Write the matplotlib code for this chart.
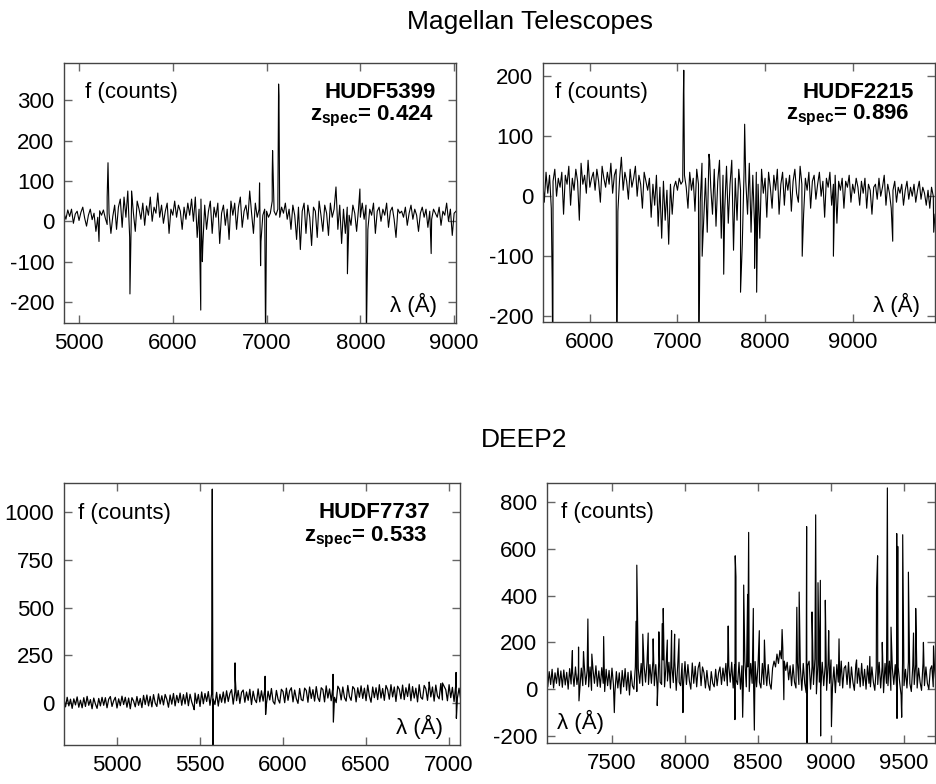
import numpy as np
import matplotlib
matplotlib.use("Agg")
import matplotlib.pyplot as plt

plt.rcParams['font.family'] = ['Liberation Sans', 'DejaVu Sans']
plt.rcParams['mathtext.fontset'] = 'custom'
plt.rcParams['mathtext.rm'] = 'Liberation Sans'
plt.rcParams['mathtext.bf'] = 'Liberation Sans:bold'
plt.rcParams['axes.unicode_minus'] = False

# ---------------------------------------------------------------------
# data
# each spectrum = regular noisy continuum + list of spikes (lines)
# ---------------------------------------------------------------------

# HUDF5399 (Magellan), grid start 4840, step 20
p1_start, p1_step = 4840, 20
p1_flux = [
    20, 5, 28, 12, 30, -5, 18, 25, 2, 22,
    35, 8, -12, 15, 30, 4, 20, -25, 10, 26,
    15, 28, 8, -8, 20, -30, 12, 40, -20, 35,
    55, -15, 60, 10, 75, -40, 45, 20, -25, 50,
    30, 5, 45, -10, 38, 15, 60, 0, 35, 20,
    70, 10, 40, -5, 25, 45, -30, 30, 15, 50,
    10, 40, 25, -20, 35, 5, 45, 15, 55, 0,
    60, -40, 30, 55, -60, 40, -20, 25, 50, -30,
    35, 10, 45, -55, 20, 40, -10, 30, -45, 50,
    15, 45, -20, 35, 60, -15, 25, 40, 5, 75,
    20, -30, 45, 10, 30, -50, 15, 30, 25, 10,
    20, 50, 25, 15, 30, 10, 35, 20, 45, 5,
    30, -20, 40, 15, -45, 35, -70, 25, 45, -30,
    40, 10, -60, 35, 25, -40, 50, 15, -25, 40,
    20, -35, 45, 10, 30, 85, -20, 40, -55, 30,
    -30, 35, 15, -10, 40, 20, -25, 30, 10, 45,
    5, 40, -20, 30, 15, 45, -30, 25, 35, 0,
    30, 15, 45, -15, 25, 35, 5, -40, 30, 20,
    25, 10, 35, -10, 20, 40, 5, 30, 15, -25,
    20, 35, 10, 30, -15, 25, 5, 30, 20, 10,
    35, -10, 25, 15, 45, 0, 30, -35, 20, 25,
]
p1_line_wl = [5213, 5300, 5309, 5543, 5560, 6298, 6315, 6925, 6936, 6989,
              7060, 7064, 7128, 7132, 7862, 7995, 8064, 8755]
p1_line_f = [-50, 60, 145, -180, 75, -220, -100, 95, -110, -300,
             115, 175, 340, 310, -130, 80, -300, -80]

# HUDF2215 (Magellan), grid start 5460, step 20
p2_start, p2_step = 5460, 20
p2_flux = [
    30, -10, 40, 5, 35, -20, 25, 45, 0, 30,
    15, 40, -30, 35, 20, 50, -15, 30, 10, 45,
    25, -40, 55, 20, 35, 5, 60, 15, 30, 40,
    10, 45, 25, -10, 50, 30, 15, 40, 20, 55,
    5, 35, 45, -25, 30, 65, 10, 40, 25, -5,
    45, 15, 30, 50, 0, 35, 20, -20, 40, 25,
    10, 30, -35, 20, -15, 35, -50, 15, -70, 25,
    -40, 10, -80, 20, -30, 15, 25, 10, 30, 20,
    25, 35, 15, -20, 40, 10, 30, -25, 45, 20,
    -10, 55, -40, 30, -60, 70, 15, -30, 45, -50,
    25, 60, -70, 35, -20, 50, -45, 20, 60, -90,
    30, -40, 45, 10, -80, 40, 25, -30, 55, -60,
    35, -50, 40, 20, -70, 45, 5, 30, -35, 40,
    15, -20, 35, 10, 45, -30, 20, 40, -15, 30,
    10, 35, -25, 25, 45, 5, -10, 50, 20, -30,
    30, 10, 40, -20, 25, 35, -5, 20, 40, 0,
    25, -35, 30, 15, 40, -15, 20, 35, -45, 25,
    10, 30, -20, 25, 15, 35, -10, 20, 5, 30,
    15, -15, 25, 5, 30, -20, 20, 10, -30, 15,
    20, -5, 30, 0, 15, 35, -15, 20, 5, -20,
    10, 25, -10, 15, 5, 20, -15, 10, 25, -5,
    15, 0, 20, -10, 10, 25, -5, 15, 5, -15,
    10, -20, 15, 0, -30,
]
p2_line_wl = [5570, 5578, 6308, 7068, 7072, 7243, 7282, 7368, 7528, 7720,
              7767, 7880, 7904, 8424, 8780, 9457, 9925]
p2_line_f = [-140, -320, -320, 170, 210, -320, -100, 60, -130, -160,
             120, -120, -160, -100, -100, -75, -60]

# HUDF7737 (DEEP2), grid start 4680, step 10
p3_start, p3_step = 4680, 10
p3_flux = [
    25, -20, 30, -15, 20, -28, 22, -10, 32, -22, 15, -25,
    28, -18, 35, -12, 18, -30, 26, -5, -28, 24, -15, 30,
    -12, 28, -25, 20, 34, -18, 12, 30, -26, 22, -14, 36,
    -8, 30, -22, 26, -30, 28, 10, -20, 34, -12, 24, -24,
    40, -8, 42, -15, 35, -20, 44, 0, -18, 48, -5, 38,
    -10, 45, 20, -22, 42, -6, 50, -15, 40, 2, 52, -12,
    44, -5, 54, -14, 46, 6, -20, 52, -2, 45, -18, 58,
    -4, 50, 8, 60, -12, 48, 20, -8, 56, -16, 46, 4,
    58, 0, 64, 8, 50, 70, -6, 60, 12, 66, -2, 56,
    68, 4, 58, 14, 72, -8, 62, 18, 2, 74, 6, 64,
    10, 70, -4, 62, 16, 76, 8, -6, 66, 20, 0, 72,
    60, 2, 78, 14, 64, 80, 6, 68, 22, -2, 76, 18,
    12, 78, 66, 4, 84, 24, 70, 10, 86, 28, 8, 80,
    70, 6, 90, 26, 74, 12, 82, 30, 2, 88, 72, 16,
    84, 28, 10, 92, 34, 14, 86, 74, 6, 80, 30, 90,
    24, 78, 12, 94, 36, 4, 84, 28, 80, 18, 96, 26,
    76, 14, 92, 70, 20, 96, 32, 84, 8, 88, 72, 22,
    94, 18, 80, 34, 100, 12, 86, 26, 78, 6, 96, 30,
    20, 92, 74, 14, 98, 32, 84, 10, 94, 36, 22, 102,
    16, 88, 70, 12, 96, 28, 82, 8, 92, 26, 78, 18,
]
p3_line_wl = [5465, 5572, 5574, 5578, 5711, 5713, 5892, 5895, 6301, 6303,
              6880, 6960, 7042, 7044]
p3_line_f = [-35, 700, 1120, -260, 210, 120, 140, -60, 150, -100,
             110, 105, 160, -80]

# DEEP2 second object, grid start 7050, step 10
p4_start, p4_step = 7050, 10
p4_flux = [
    80, 10, 75, 20, 85, 5, 70, 25, 90, 15, 78, 8,
    82, 18, 72, 0, 88, 22, 76, 12, 95, 20, 70, 5,
    90, 15, 105, 20, 80, 10, 95, -5, 85, 25, 100, 12,
    78, 8, 92, 25, -10, 85, 15, 80, 0, 90, 20, -15,
    75, 5, 70, -20, 80, 10, 88, -5, 72, -25, 78, 15,
    0, 95, -10, 88, 25, 110, 15, 100, 30, 115, 20, 105,
    25, 120, 15, 105, 0, 118, 30, 20, 125, 10, 100, 35,
    115, 5, 98, 28, 120, -5, 100, 30, 15, 110, 25, 118,
    20, 105, 35, 0, 112, 25, 98, 10, 90, 115, 15, 95,
    70, 5, 80, 20, -5, 75, 25, 10, 85, 15, 70, 95,
    20, 90, 35, 110, 15, 100, 30, 115, 5, 105, 40, 20,
    115, 0, 100, 30, 120, 10, 95, -10, 110, 25, 15, 118,
    10, 100, 30, 5, 110, 20, 95, 15, 105, 25, 0, 90,
    120, 95, 150, 110, 165, 130, 175, 120, 80, 115, 40, 100,
    15, 105, 30, 5, 115, 20, 95, -5, 110, 25, -15, 100,
    120, 0, 95, 20, 130, -20, 105, 30, 5, 115, 15, 100,
    -5, 110, 25, 125, 10, 95, -15, 105, 30, 15, 120, 5,
    90, 100, 20, 115, 5, 95, 30, -5, 105, 25, 90, 10,
    110, 15, 85, 0, 100, 25, 10, 95, 30, -5, 90, 20,
    115, 5, 95, -15, 110, 25, 15, 120, -5, 90, 20, 105,
    0, 95, 30, -25, 110, 15, 85, 5, 115, 25, -10, 100,
    20, 105, 5, 90, 30, -5, 110, 15, 95, 25, 0, 85,
    100, 10, 80, 20,
]
p4_line_wl = [7229, 7271, 7274, 7305, 7335, 7362, 7443, 7516, 7665, 7670,
              7711, 7748, 7782, 7810, 7821, 7844, 7851, 7879, 7908, 7929,
              7959, 7986, 8296, 8342, 8344, 8349, 8395, 8402, 8429, 8436,
              8468, 8475, 8509, 8544, 8665, 8677, 8766, 8782, 8833, 8835,
              8870, 8895, 8911, 8927, 8929, 8961, 8984, 9003, 9055, 9175,
              9266, 9312, 9319, 9351, 9386, 9411, 9450, 9452, 9457, 9484,
              9491, 9530, 9565, 9580, 9633, 9702]
p4_line_f = [165, 180, -50, 160, 300, 150, 225, -100, 290, 530,
             235, 240, 215, -70, 245, 280, 345, 210, 250, 235,
             215, -100, 270, -130, 570, 480, -120, 445, 405, 670,
             345, -175, 250, 210, 255, -45, 350, 415, 695, -260,
             330, 745, 455, 465, -200, 380, 250, -160, 215, 125,
             140, 430, 570, 200, 860, 265, 665, -125, 610, -120,
             660, 500, 240, 345, 200, 185]


def spectrum(start, step, flux, line_wl, line_f):
    wl = start + step * np.arange(len(flux))
    x = np.concatenate([wl, line_wl])
    y = np.concatenate([flux, line_f])
    order = np.argsort(x, kind='stable')
    return x[order], y[order]


panels = [
    # rect, data, xlim, ylim, xticks, yticks, name, z, f pos, name pos, lambda pos, lw
    ([0.0684, 0.588, 0.4188, 0.3316],
     (p1_start, p1_step, p1_flux, p1_line_wl, p1_line_f),
     (4840, 9020), (-252, 392), range(5000, 9001, 1000), range(-200, 301, 100),
     'HUDF5399', '0.424', (0.054, 0.888), (0.949, 0.888, 0.944, 0.796),
     ('right', 0.951, 0.069), 0.8),
    ([0.580, 0.589, 0.4185, 0.3306],
     (p2_start, p2_step, p2_flux, p2_line_wl, p2_line_f),
     (5464, 9935), (-210, 222), range(6000, 9001, 1000), range(-200, 201, 100),
     'HUDF2215', '0.896', (0.031, 0.888), (0.946, 0.888, 0.936, 0.796),
     ('right', 0.962, 0.066), 0.8),
    ([0.0684, 0.0497, 0.4231, 0.3342],
     (p3_start, p3_step, p3_flux, p3_line_wl, p3_line_f),
     (4681, 7066), (-220, 1152), range(5000, 7001, 500), range(0, 1001, 250),
     'HUDF7737', '0.533', (0.035, 0.885), (0.924, 0.889, 0.917, 0.794),
     ('right', 0.957, 0.069), 0.9),
    ([0.5844, 0.0523, 0.4145, 0.3316],
     (p4_start, p4_step, p4_flux, p4_line_wl, p4_line_f),
     (7055, 9712), (-230, 881), range(7500, 9501, 500), range(-200, 801, 200),
     None, None, (0.036, 0.885), None,
     ('left', 0.026, 0.081), 0.85),
]

fig = plt.figure(figsize=(9.36, 7.84), dpi=100)

for rect, dat, xl, yl, xt, yt, name, z, fpos, npos, lpos, lw in panels:
    ax = fig.add_axes(rect)
    x, y = spectrum(*dat)
    ax.plot(x, y, color='black', lw=lw)
    ax.set_xlim(*xl)
    ax.set_ylim(*yl)
    ax.set_xticks(list(xt))
    ax.set_yticks(list(yt))
    ax.tick_params(direction='in', length=6, width=1, color='#666666',
                   labelsize=16, top=True, right=True, pad=7)
    for s in ax.spines.values():
        s.set_color('#444444')
        s.set_linewidth(1)
    ax.text(fpos[0], fpos[1], 'f (counts)', transform=ax.transAxes,
            fontsize=16, ha='left', va='center')
    if name:
        ax.text(npos[0], npos[1], name, transform=ax.transAxes,
                fontsize=16, fontweight='bold', ha='right', va='center')
        ax.text(npos[2], npos[3], r'$\mathbf{z}_{\mathbf{spec}}$= ' + z,
                transform=ax.transAxes, fontsize=16, fontweight='bold',
                ha='right', va='center')
    ax.text(lpos[1], lpos[2], 'λ (Å)', transform=ax.transAxes,
            fontsize=16, ha=lpos[0], va='center')

fig.text(0.566, 0.972, 'Magellan Telescopes', fontsize=19, ha='center', va='center')
fig.text(0.560, 0.439, 'DEEP2', fontsize=19, ha='center', va='center')

fig.savefig('out.png', dpi=100)
